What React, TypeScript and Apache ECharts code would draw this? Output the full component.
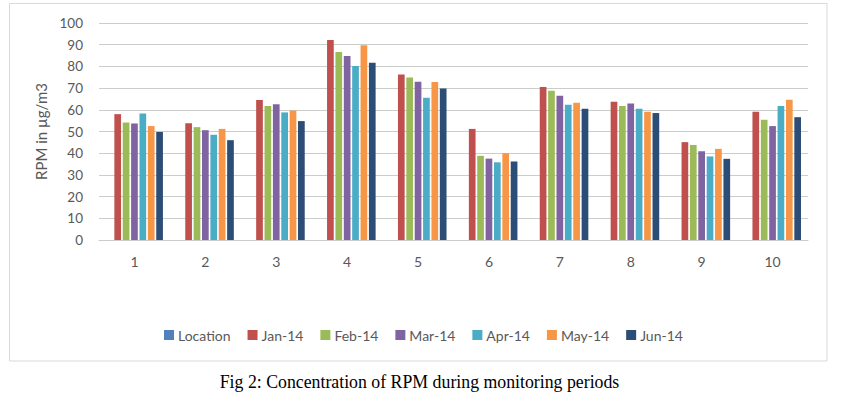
import React, { useEffect, useRef } from "react";
import * as echarts from "echarts";

const categories = ["1", "2", "3", "4", "5", "6", "7", "8", "9", "10"];
const seriesNames = ["Location", "Jan-14", "Feb-14", "Mar-14", "Apr-14", "May-14", "Jun-14"];
const location: (number | null)[] = [null, null, null, null, null, null, null, null, null, null];
const jan14 = [58.0, 53.8, 64.5, 92.2, 76.3, 51.2, 70.5, 63.7, 45.1, 59.1];
const feb14 = [54.2, 52.0, 61.7, 86.6, 74.9, 38.8, 68.8, 61.8, 43.8, 55.4];
const mar14 = [53.7, 50.6, 62.6, 84.8, 72.9, 37.5, 66.5, 62.9, 40.9, 52.5];
const apr14 = [58.3, 48.5, 58.8, 80.2, 65.5, 35.8, 62.3, 60.5, 38.5, 61.7];
const may14 = [52.5, 51.2, 59.7, 89.7, 72.8, 40.0, 63.2, 59.1, 42.0, 64.6];
const jun14 = [49.8, 46.0, 54.8, 81.7, 69.8, 36.2, 60.5, 58.5, 37.4, 56.6];
const yTicks = [0, 10, 20, 30, 40, 50, 60, 70, 80, 90, 100];

const colors = ["#4F81BD", "#C0504D", "#9BBB59", "#8064A2", "#4BACC6", "#F79646", "#2C4D75"];
const seriesData = [location, jan14, feb14, mar14, apr14, may14, jun14];

export default function App() {
  const ref = useRef<HTMLDivElement>(null);
  useEffect(() => {
    if (!ref.current) return;
    const chart = echarts.init(ref.current, undefined, { renderer: "svg" });
    const textColor = "#595959";
    const font = "Lato, 'Open Sans', sans-serif";
    chart.setOption({
      animation: false,
      backgroundColor: "#ffffff",
      color: colors,
      grid: { left: 99, top: 23, width: 709, height: 217, containLabel: false },
      legend: {
        data: seriesNames,
        left: 159,
        top: 323,
        icon: "rect",
        itemWidth: 10,
        itemHeight: 10,
        itemGap: 17,
        textStyle: { color: textColor, fontSize: 14, fontFamily: font, padding: [0, 0, 0, -1] },
      },
      xAxis: {
        type: "category",
        data: categories,
        axisLine: { show: true, lineStyle: { color: "#C9CFC8", width: 1 } },
        axisTick: { show: false },
        axisLabel: { color: textColor, fontSize: 14, fontFamily: font, margin: 14 },
      },
      yAxis: {
        type: "value",
        min: yTicks[0],
        max: yTicks[yTicks.length - 1],
        interval: 10,
        name: "RPM in µg/m3",
        nameLocation: "middle",
        nameGap: 50,
        nameTextStyle: { color: textColor, fontSize: 15, fontFamily: font },
        axisLine: { show: false },
        axisTick: { show: false },
        axisLabel: { color: textColor, fontSize: 13.5, fontFamily: font, margin: 16 },
        splitLine: { lineStyle: { color: "#C9CFC8", width: 1 } },
      },
      series: seriesNames.map((name, i) => ({
        name,
        type: "bar",
        data: seriesData[i],
        barWidth: 6.7,
        barGap: "25%",
        itemStyle: { color: colors[i] },
      })),
      graphic: [
        {
          type: "rect",
          shape: { x: 9.5, y: 3.5, width: 817.5, height: 357.5 },
          style: { fill: "none", stroke: "#D9D9D9", lineWidth: 1 },
          silent: true,
        },
        {
          type: "text",
          x: 419.5,
          y: 382,
          style: {
            text: "Fig 2: Concentration of RPM during monitoring periods",
            font: "17.8px 'Liberation Serif', 'Times New Roman', serif",
            fill: "#000000",
            align: "center",
            verticalAlign: "middle",
          },
        },
      ],
    });
    return () => chart.dispose();
  }, []);
  return (
    <div
      ref={ref}
      style={{ position: "fixed", left: 0, top: 0, width: 850, height: 394, background: "#fff" }}
    />
  );
}
